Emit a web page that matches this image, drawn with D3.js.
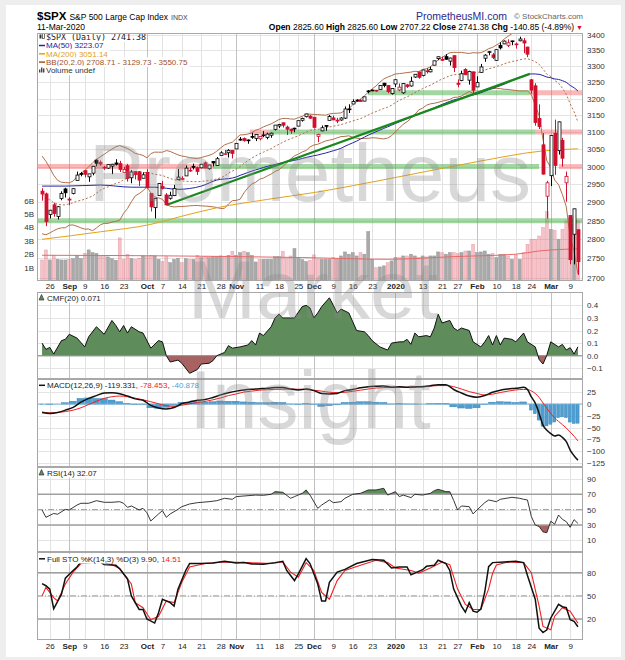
<!DOCTYPE html>
<html>
<head>
<meta charset="utf-8">
<title>$SPX daily</title>
<script src="https://cdn.jsdelivr.net/npm/d3@7/dist/d3.min.js"></script>
<style>
  body { margin: 0; background: #eeeeee; }
  svg { display: block; font-family: "Liberation Sans", Arial, sans-serif; }
</style>
</head>
<body>
<svg id="chart" width="625" height="660"></svg>
<script>
// trading days shown on the chart
const dates = [
  "2019-08-22","2019-08-23","2019-08-26","2019-08-27","2019-08-28","2019-08-29","2019-08-30",
  "2019-09-03","2019-09-04","2019-09-05","2019-09-06","2019-09-09","2019-09-10","2019-09-11","2019-09-12","2019-09-13",
  "2019-09-16","2019-09-17","2019-09-18","2019-09-19","2019-09-20","2019-09-23","2019-09-24","2019-09-25","2019-09-26","2019-09-27","2019-09-30",
  "2019-10-01","2019-10-02","2019-10-03","2019-10-04","2019-10-07","2019-10-08","2019-10-09","2019-10-10","2019-10-11",
  "2019-10-14","2019-10-15","2019-10-16","2019-10-17","2019-10-18","2019-10-21","2019-10-22","2019-10-23","2019-10-24","2019-10-25",
  "2019-10-28","2019-10-29","2019-10-30","2019-10-31",
  "2019-11-01","2019-11-04","2019-11-05","2019-11-06","2019-11-07","2019-11-08","2019-11-11","2019-11-12","2019-11-13","2019-11-14","2019-11-15",
  "2019-11-18","2019-11-19","2019-11-20","2019-11-21","2019-11-22","2019-11-25","2019-11-26","2019-11-27","2019-11-29",
  "2019-12-02","2019-12-03","2019-12-04","2019-12-05","2019-12-06","2019-12-09","2019-12-10","2019-12-11","2019-12-12","2019-12-13",
  "2019-12-16","2019-12-17","2019-12-18","2019-12-19","2019-12-20","2019-12-23","2019-12-24","2019-12-26","2019-12-27","2019-12-30","2019-12-31",
  "2020-01-02","2020-01-03","2020-01-06","2020-01-07","2020-01-08","2020-01-09","2020-01-10","2020-01-13","2020-01-14","2020-01-15","2020-01-16","2020-01-17",
  "2020-01-21","2020-01-22","2020-01-23","2020-01-24","2020-01-27","2020-01-28","2020-01-29","2020-01-30","2020-01-31",
  "2020-02-03","2020-02-04","2020-02-05","2020-02-06","2020-02-07","2020-02-10","2020-02-11","2020-02-12","2020-02-13","2020-02-14",
  "2020-02-18","2020-02-19","2020-02-20","2020-02-21","2020-02-24","2020-02-25","2020-02-26","2020-02-27","2020-02-28",
  "2020-03-02","2020-03-03","2020-03-04","2020-03-05","2020-03-06","2020-03-09","2020-03-10","2020-03-11"
];
const opens = [
  2930.94,2923.26,2866.70,2893.14,2861.28,2910.37,2937.09,
  2909.01,2924.67,2960.60,2980.33,2988.43,2971.01,2981.41,3018.46,3012.21,
  2996.41,2995.67,3001.50,3010.36,3008.42,2983.50,3002.43,2968.35,2985.73,2985.47,2967.07,
  2983.69,2924.78,2885.38,2918.56,2944.23,2920.40,2911.10,2918.55,2963.07,
  2965.81,2973.61,2989.68,3000.77,2996.84,2996.48,3010.73,2994.01,3014.78,3003.32,
  3032.12,3035.39,3039.74,3046.90,
  3050.72,3078.96,3080.80,3075.10,3087.02,3081.25,3080.33,3089.28,3084.18,3090.75,3107.92,
  3117.91,3127.45,3114.66,3108.49,3111.41,3117.44,3134.85,3145.49,3147.18,
  3143.85,3087.41,3103.50,3119.21,3134.62,3141.86,3135.36,3135.75,3141.23,3166.65,
  3183.63,3195.40,3195.21,3192.32,3223.33,3226.05,3225.45,3227.20,3247.23,3240.09,3215.18,
  3244.67,3226.36,3217.55,3241.86,3238.59,3266.03,3281.81,3271.13,3285.35,3282.27,3302.97,3323.66,
  3321.03,3330.02,3315.77,3333.10,3247.16,3255.35,3289.46,3256.45,3282.33,
  3235.66,3280.61,3324.91,3344.92,3335.54,3318.28,3365.87,3370.50,3365.90,3378.08,
  3369.04,3380.39,3380.45,3360.50,3257.61,3238.94,3139.90,3062.54,2916.90,
  2974.28,3096.46,3045.75,3075.70,2954.20,2863.89,2813.48,2825.60
];
const highs = [
  2939.08,2927.00,2879.27,2898.79,2890.03,2930.50,2940.43,
  2914.39,2938.84,2985.86,2985.03,2989.43,2979.39,3000.93,3020.74,3017.33,
  3002.19,3006.21,3007.83,3021.19,3016.37,2999.15,3007.98,2989.82,2987.28,2987.31,2983.85,
  2992.53,2924.78,2911.13,2953.74,2959.75,2925.47,2929.32,2948.46,2993.28,
  2972.84,3003.28,2997.54,3008.29,3000.00,3007.33,3014.57,3004.78,3016.07,3027.39,
  3044.08,3047.87,3050.10,3046.90,
  3066.95,3085.20,3083.95,3078.34,3097.77,3093.09,3088.33,3102.61,3098.06,3098.20,3120.46,
  3124.17,3127.64,3118.97,3110.11,3112.87,3133.83,3142.69,3154.26,3150.30,
  3144.31,3094.97,3119.38,3119.45,3150.60,3148.87,3142.12,3143.98,3176.28,3182.68,
  3197.71,3198.22,3198.48,3205.48,3225.65,3227.78,3226.43,3240.08,3247.93,3240.92,3231.72,
  3258.14,3246.15,3246.84,3244.91,3267.07,3275.58,3282.99,3288.13,3294.25,3298.66,3317.11,3329.88,
  3329.79,3337.77,3326.88,3333.18,3258.85,3285.78,3293.47,3285.91,3282.33,
  3268.44,3306.92,3337.58,3347.96,3341.42,3352.26,3375.63,3381.47,3385.09,3380.69,
  3375.01,3393.52,3389.15,3360.76,3259.81,3246.99,3182.51,3097.07,2959.72,
  3090.96,3136.72,3130.97,3083.04,2985.93,2863.89,2882.59,2825.60
];
const lows = [
  2904.51,2834.97,2856.00,2860.59,2853.05,2905.67,2913.32,
  2891.85,2921.86,2960.60,2972.51,2969.39,2957.01,2975.31,3000.92,3002.90,
  2990.67,2993.73,2978.57,3003.16,2984.68,2982.23,2957.73,2952.86,2963.71,2945.53,2967.07,
  2938.70,2874.93,2855.94,2918.56,2935.68,2892.66,2907.41,2917.12,2963.07,
  2962.94,2973.61,2985.20,2991.79,2976.31,2995.35,2995.04,2991.21,3000.42,3001.94,
  3032.12,3034.81,3025.96,3023.19,
  3050.72,3074.87,3072.15,3065.89,3080.23,3073.58,3075.82,3084.73,3078.80,3083.26,3104.60,
  3112.06,3113.47,3091.41,3094.55,3099.26,3117.44,3131.00,3143.41,3139.34,
  3110.78,3070.33,3102.53,3103.76,3134.62,3135.46,3126.09,3133.21,3138.47,3156.51,
  3183.63,3191.03,3191.14,3192.32,3216.03,3222.30,3220.51,3227.20,3234.37,3216.57,3212.03,
  3235.53,3222.34,3214.64,3232.43,3236.67,3263.67,3260.86,3268.43,3277.19,3280.69,3302.82,3318.86,
  3316.61,3320.04,3301.87,3281.53,3234.50,3253.22,3271.89,3242.80,3214.68,
  3235.66,3280.61,3313.75,3334.39,3322.12,3317.77,3352.72,3369.72,3360.52,3366.15,
  3355.61,3378.83,3341.02,3328.45,3214.65,3118.77,3108.99,2977.39,2855.84,
  2945.19,2976.63,3034.38,2999.83,2901.54,2734.43,2734.00,2707.22
];
const closes = [
  2922.95,2847.11,2878.38,2869.16,2887.94,2924.58,2926.46,
  2906.27,2937.78,2976.00,2978.71,2978.43,2979.39,3000.93,3009.57,3007.39,
  2997.96,3005.70,3006.73,3006.79,2992.07,2991.78,2966.60,2984.87,2977.62,2961.79,2976.74,
  2940.25,2887.61,2910.63,2952.01,2938.79,2893.06,2919.40,2938.13,2970.27,
  2966.15,2995.68,2989.69,2997.95,2986.20,3006.72,2995.99,3004.52,3010.29,3022.55,
  3039.42,3036.89,3046.77,3037.56,
  3066.91,3078.27,3074.62,3076.78,3085.18,3093.08,3087.01,3091.84,3094.04,3096.63,3120.46,
  3122.03,3120.18,3108.46,3103.54,3110.29,3133.64,3140.52,3153.63,3140.98,
  3113.87,3093.20,3112.76,3117.43,3145.91,3135.96,3132.52,3141.63,3168.57,3168.80,
  3191.45,3192.52,3191.14,3205.37,3221.22,3224.01,3223.38,3239.91,3240.02,3221.29,3230.78,
  3257.85,3234.85,3246.28,3237.18,3253.05,3274.70,3265.35,3288.13,3283.15,3289.29,3316.81,3329.62,
  3320.79,3321.75,3325.54,3295.47,3243.63,3276.24,3273.40,3283.66,3225.52,
  3248.92,3297.59,3334.69,3345.78,3327.71,3352.09,3357.75,3379.45,3373.94,3380.16,
  3370.29,3386.15,3373.23,3337.75,3225.89,3128.21,3116.39,2978.76,2954.22,
  3090.23,3003.37,3130.12,3023.94,2972.37,2746.56,2882.23,2741.38
];
// closes of the 19 sessions before the first day (Bollinger warm-up)
const priorCloses = [
  3025.86,3020.97,3013.18,2980.38,2953.56,2932.05,2844.74,2881.77,2883.98,2938.09,
  2918.65,2882.70,2926.32,2840.60,2847.60,2888.68,2923.65,2900.51,2924.43
];
// volume, billions of shares
const volumes = [
  1.57,2.32,1.57,1.92,1.62,1.57,1.57,
  1.62,1.67,1.92,1.67,2.07,2.32,2.12,2.07,1.87,
  1.82,1.80,1.67,1.55,3.22,1.62,2.00,1.67,1.62,1.70,1.87,
  1.82,1.92,1.87,1.62,1.45,1.82,1.37,1.62,1.70,
  1.37,1.67,1.62,1.62,1.92,1.75,1.82,1.75,1.82,1.82,
  1.87,1.82,1.92,2.22,
  1.92,2.12,2.22,2.12,1.92,1.42,1.62,1.62,1.62,1.62,1.82,
  1.82,2.22,1.67,1.87,2.42,1.75,1.60,1.45,1.55,
  1.95,1.62,1.62,1.62,1.62,1.75,1.62,1.87,2.17,2.00,
  2.12,1.87,2.12,2.00,3.69,1.62,1.00,1.05,1.13,1.37,1.50,
  1.75,1.75,1.87,1.87,2.00,1.87,1.75,1.87,1.80,1.87,1.87,2.17,
  2.12,2.00,2.12,2.12,2.05,2.12,2.24,2.24,2.74,
  2.12,2.17,2.24,2.00,2.05,1.75,2.00,2.00,1.87,1.62,
  1.95,1.62,2.12,2.74,3.12,3.12,3.36,3.99,5.18,
  3.86,3.79,3.12,3.86,4.49,4.74,4.20,4.50
];
// volume moving average
const volMaDay = [0, 30, 67, 89, 106, 122, 128, 138];
const volMaVal = [1.92, 1.88, 1.75, 1.62, 1.82, 2.00, 2.24, 2.40];

// moving averages read off the chart where the history is not on it
const ma50EarlyDay = [0, 6, 15, 23, 29, 35, 41, 45];
const ma50EarlyVal = [2945, 2945, 2948, 2942, 2942, 2936, 2945, 2962];
const ma200Day = [0, 15, 28, 36, 45, 58, 70, 90, 112, 129, 138];
const ma200Val = [2800, 2820, 2840, 2862, 2885, 2908, 2927, 2967, 3014, 3045, 3051.14];

// drawn annotations: trend line and support / resistance levels
const trendDay = [32, 125.6];
const trendPrice = [2892.66, 3276];
const levelPrice = [3218, 3218, 3100, 3100, 3100, 3000, 3000, 3000, 2850];
const levelFrom  = [83.9, 125.6, 53.5, 58.7, 127.1, -1.3, 44, 133.1, -1.3];
const levelTo    = [125.6, 139.3, 58.7, 127.1, 139.3, 44, 128, 139.3, 139.3];
const levelKind  = ["support", "resistance", "resistance", "support", "resistance", "resistance", "support", "resistance", "support"];

// CMF(20)
const cmfDay = [0,1,2,3,5,6,7,9,11,12,14,16,18,19,20,21,22,23,25,26,28,30,31,32,33,35,36,38,40,41,43,44,45,47,48,49,51,53,54,55,
  56,57,59,60,61,62,64,65,67,68,69,70,71,72,74,75,76,77,79,80,81,83,84,85,87,89,90,92,93,94,95,96,97,99,100,101,102,103,105,106,
  107,108,110,111,113,114,115,116,117,118,119,121,122,124,125,127,128,129,130,131,133,134,135,136,137,138];
const cmfVal = [0.10,0.05,0.066,0.013,0.12,0.13,0.17,0.14,0.07,0.15,0.23,0.17,0.28,0.24,0.19,0.24,0.18,0.23,0.19,0.18,
  0.06,0.12,0.11,0.0,-0.05,-0.035,-0.06,-0.14,-0.11,-0.066,-0.06,-0.04,0.0,0.026,0.08,0.06,0.07,0.085,0.12,0.085,
  0.18,0.16,0.23,0.30,0.33,0.30,0.30,0.30,0.39,0.40,0.38,0.30,0.34,0.39,0.46,0.40,0.34,0.37,0.34,0.27,
  0.20,0.19,0.16,0.12,0.07,0.045,0.10,0.11,0.11,0.13,0.09,0.18,0.15,0.16,0.15,0.22,0.33,0.26,0.28,0.22,
  0.20,0.22,0.20,0.11,0.07,0.11,0.16,0.085,0.16,0.085,0.14,0.13,0.11,0.18,0.11,0.07,-0.03,-0.066,0.005,0.11,
  0.07,0.09,0.045,0.064,0.013,0.071];

// MACD(12,26,9)
const macdDay = [0,2,4,6,8,10,12,14,16,18,20,22,24,26,28,30,32,34,36,38,40,42,44,46,48,50,52,54,56,58,60,62,64,66,68,70,
  72,74,76,78,80,82,84,86,88,90,92,94,96,98,100,102,104,106,108,110,112,114,116,118,120,122,124,
  125,126,127,128,129,130,131,132,133,134,135,136,137,138];
const macdVal = [-18,-20,-18,-13,-7,4,12,18,23.5,24,22,17,11,8,-3,-8.5,-10.5,-7.5,1,4.5,8,9.5,14,19.5,24,27.5,30,31.5,32.5,33.5,
  35,35,32,30,32,28.6,22.5,21.5,22.5,28.6,31,34.5,37,38,38.5,36,37,36,36.5,37,39,41,41,31,23.5,17,14.5,18,25,29.5,32,33.5,35.5,
  31,15,2,-20,-45,-56,-63,-68,-66,-71,-80,-98,-110,-119.331];
const signalVal = [-17,-18.6,-18,-16,-13,-8,-1,6,12,15.5,17,15.5,12.5,9,5,0.5,-3.5,-5,-2.5,0.5,3.2,5.5,9,13,18,21.5,25.5,27.5,29.5,30.5,
  31.2,31.5,31.8,31.5,30.8,29.5,27.5,25,24.3,25,27,29.5,32,34,35,35.7,35.7,35.7,36.3,37,38,39.3,39.3,37,32,26.5,22.5,19.3,21,24.5,27.5,30,31,
  31,27.8,22.6,14.1,2.3,-9.4,-20.1,-29.7,-37,-43.8,-51,-59.6,-68.4,-78.453];

// RSI(14)
const rsiDay = [0,1,3,4,6,7,9,10,12,14,16,18,20,21,22,23,25,26,27,28,30,31,32,33,35,36,38,40,43,45,47,49,50,52,55,57,59,60,62,64,
  65,67,68,69,71,72,74,75,77,78,80,82,84,86,88,89,91,92,93,95,96,98,100,101,102,104,105,106,107,108,
  110,111,112,114,115,117,118,121,123,124,125,126,127,128,129,130,131,132,133,134,135,136,137,138];
const rsiVal = [49.6,40,45,44,50.4,49.6,56,58.3,58.3,61.7,59.6,59.6,60.4,58.3,53,54.8,49.6,51.7,46,35.2,
  44.4,48.7,40,44.4,50.4,53.9,57.4,59.1,60.4,61.7,64.8,63.5,67,67.8,69,68.7,70,73.5,72.6,64.8,
  67,71.3,75.7,69,51.7,56,62.6,59.1,60.4,64.8,70,71.3,75.7,75.7,77.8,69,73.5,67,69,65.7,
  70,69,71.3,74.8,76.5,73.5,73.5,62,49.6,54.8,53.9,44.4,49.6,59.1,62.6,60.4,63.5,66.1,64.8,63.5,
  62.6,41,30,28,21,20,35,31,43,37.4,34.3,27,37,32.07];

// Full STO %K(14,3) %D(3)
const stoKDay = [0,1,2,3,5,6,8,9,10,13,15,16,19,20,22,23,25,26,27,29,30,31,33,34,35,37,38,41,44,47,50,52,54,57,60,62,63,65,66,68,
  69,71,72,73,74,76,78,81,85,88,90,92,94,95,96,98,99,101,102,104,105,106,108,109,110,111,112,113,114,115,
  116,119,122,124,125,127,128,129,130,131,133,134,135,136,137,138];
const stoKVal = [66,63.2,58.8,33.3,52.2,73,83,87.5,94,94,94,90.6,89.7,85.3,72,50,32.4,32.4,20,14.7,
  28,45.6,41.2,36.8,58.8,83,92,92,92.8,95,92.8,93.2,91.5,91,93.2,95,83,69.9,78.7,98.5,
  92,65.4,43.4,43.4,67.6,80.9,84.4,92,97.2,96.3,86.2,87.5,87.5,77.4,79.6,84,88.4,89.7,96.3,92,
  83,58.8,36.8,28.8,41.2,30.2,28.8,33,55,88,93.2,94,95,93.2,76.5,45.6,8.1,2.4,5.9,21.3,
  39,35.9,34.6,19.1,16.9,9.9];
const stoDDay = [0,1,3,4,6,8,10,15,18,20,23,24,26,28,30,32,34,36,38,42,47,53,59,62,64,66,68,70,72,74,
  76,78,82,86,89,91,95,97,100,103,105,107,109,111,113,115,116,117,120,124,126,128,129,131,132,134,136,138];
const stoDVal = [50,61,47.8,43.4,65.4,80.9,92,94,90.6,85.3,65.4,41.2,34.6,19.1,23.6,43.4,41.2,67.6,87.5,92,
  94,93.2,92,94,80.9,74.3,93.2,83,54.4,45.6,69.9,83,89.7,96.3,93.2,86.2,83,79.6,86.2,94,
  90.6,58.8,39,32.4,32.4,59,79,90,94,93.2,80,36.8,10.3,5.9,23.6,34.6,30.2,14.51];

const priceTicks = [2700,2750,2800,2850,2900,2950,3000,3050,3100,3150,3200,3250,3300,3350,3400];
const volumeTicks = [1,2,3,4,5,6];
const cmfTicks = [-0.1,0,0.1,0.2,0.3,0.4];
const macdTicks = [25,0,-25,-50,-75,-100,-125];
const rsiTicks = [10,30,50,70,90];
const stoTicks = [20,50,80];

console.log("days", dates.length, opens.length, highs.length, lows.length, closes.length, volumes.length);

// ---------------- layout ----------------
const plotLeft = 37, plotRight = 583;
const mainTop = 33, mainBottom = 281;
const cmfTop = 292, cmfBottom = 379;
const macdTop = 379, macdBottom = 467;
const rsiTop = 467, rsiBottom = 552;
const stoTop = 552, stoBottom = 640;
const upColor = "#000", downColor = "#d0102e";
const last = closes.length - 1;

const svg = d3.select("#chart");
const defs = svg.append("defs");
svg.append("rect").attr("x", 6).attr("y", 5).attr("width", 615).attr("height", 652).attr("fill", "#fff");

function clipRect(id, top, bottom) {
  defs.append("clipPath").attr("id", id).append("rect")
    .attr("x", plotLeft).attr("y", top).attr("width", plotRight - plotLeft).attr("height", bottom - top);
  return `url(#${id})`;
}

const x = d3.scaleLinear([-1.3, 139.3], [plotLeft, plotRight]);
const y = d3.scaleLog([2691.4, 3405.5], [mainBottom, mainTop]);
const vy = d3.scaleLinear([0, 6], [mainBottom, 200.6]);
const cmfY = d3.scaleLinear([-0.185, 0.506], [cmfBottom, cmfTop]);
const macdY = d3.scaleLinear([-134, 53.3], [macdBottom, macdTop]);
const rsiY = d3.scaleLinear([-5.2, 105.6], [rsiBottom, rsiTop]);
const stoY = d3.scaleLinear([-7.3, 107], [stoBottom, stoTop]);

// ---------------- date ticks ----------------
const days = dates.map(d3.utcParse("%Y-%m-%d"));
const monthIdx = [], weekIdx = [];
days.forEach((d, i) => {
  if (i === 0) return;
  const p = days[i - 1];
  if (d.getUTCMonth() !== p.getUTCMonth()) monthIdx.push(i);
  else if (d.getUTCDay() < p.getUTCDay()) weekIdx.push(i);
});
const tickIdx = monthIdx.concat(weekIdx.filter(i => monthIdx.every(m => Math.abs(m - i) > 2))).sort((a, b) => a - b);
function tickText(i) {
  if (!monthIdx.includes(i)) return d3.utcFormat("%-d")(days[i]);
  return days[i].getUTCMonth() === 0 ? d3.utcFormat("%Y")(days[i]) : d3.utcFormat("%b")(days[i]);
}

function grid(top, bottom, scale, values) {
  const g = svg.append("g").attr("shape-rendering", "crispEdges");
  g.selectAll(".h").data(values).join("line").attr("class", "h")
    .attr("x1", plotLeft).attr("x2", plotRight)
    .attr("y1", d => Math.round(scale(d)) + 0.5).attr("y2", d => Math.round(scale(d)) + 0.5)
    .attr("stroke", "#e4e4e4");
  g.selectAll(".v").data(tickIdx).join("line").attr("class", "v")
    .attr("x1", i => Math.round(x(i)) + 0.5).attr("x2", i => Math.round(x(i)) + 0.5)
    .attr("y1", top).attr("y2", bottom)
    .attr("stroke", i => monthIdx.includes(i) ? "#c2c2c2" : "#e2e2e2");
}

function rightAxis(scale, values, fmt) {
  const g = svg.append("g").attr("transform", `translate(${plotRight},0)`)
    .call(d3.axisRight(scale).tickValues(values).tickSize(0).tickPadding(4).tickFormat(fmt));
  g.select(".domain").remove();
  g.attr("font-size", 8).attr("font-family", "'Liberation Sans', Arial, sans-serif");
  g.selectAll("text").attr("fill", "#333");
}

function dateAxis(top) {
  const g = svg.append("g").attr("transform", `translate(0,${top})`)
    .call(d3.axisBottom(x).tickValues(tickIdx).tickSize(0).tickPadding(0).tickFormat(tickText));
  g.select(".domain").remove();
  g.attr("font-size", 8).attr("font-family", "'Liberation Sans', Arial, sans-serif");
  g.selectAll("text").attr("fill", "#222").attr("font-weight", i => monthIdx.includes(i) ? "bold" : "normal");
}

function frame(top, bottom) {
  svg.append("rect").attr("x", plotLeft + 0.5).attr("y", top + 0.5)
    .attr("width", plotRight - plotLeft - 1).attr("height", bottom - top - 1)
    .attr("fill", "none").attr("stroke", "#a8a8a8").attr("shape-rendering", "crispEdges");
}

function legendLine(xPos, yPos, parts) {
  const t = svg.append("text").attr("x", xPos).attr("y", yPos).attr("font-size", 8);
  parts.forEach(p => t.append("tspan").attr("fill", p[1]).text(p[0]));
  const w = t.node().getComputedTextLength();
  svg.insert("rect", () => t.node()).attr("x", xPos - 9).attr("y", yPos - 7.5).attr("width", w + 11).attr("height", 9.5).attr("fill", "#fff");
  return t;
}

// ---------------- header ----------------
const title = svg.append("text").attr("x", 37).attr("y", 20);
title.append("tspan").attr("font-size", 11.5).attr("font-weight", "bold").text("$SPX");
title.append("tspan").attr("font-size", 8.5).attr("dx", 3).text("S&P 500 Large Cap Index");
title.append("tspan").attr("font-size", 7).attr("dx", 3).attr("fill", "#444").text("INDX");
svg.append("text").attr("x", 37).attr("y", 30).attr("font-size", 8.5).text(d3.utcFormat("%d-%b-%Y")(days[last]));
svg.append("text").attr("x", 416).attr("y", 20).attr("font-size", 10.5).attr("fill", "#2a2a8c").text("PrometheusMI.com");
svg.append("text").attr("x", 583).attr("y", 19).attr("font-size", 8).attr("fill", "#666").attr("text-anchor", "end").text("© StockCharts.com");

const chg = closes[last] - closes[last - 1];
const ohlc = svg.append("text").attr("x", 583).attr("y", 30).attr("font-size", 8.5).attr("text-anchor", "end");
[["Open", opens[last]], ["High", highs[last]], ["Low", lows[last]], ["Close", closes[last]]].forEach(([k, v]) => {
  ohlc.append("tspan").attr("font-weight", "bold").text(k + " ");
  ohlc.append("tspan").text(v.toFixed(2) + "  ");
});
ohlc.append("tspan").attr("font-weight", "bold").text("Chg ");
ohlc.append("tspan").text(`${chg.toFixed(2)} (${(chg / closes[last - 1] * 100).toFixed(2)}%)`);
ohlc.append("tspan").attr("fill", downColor).attr("font-size", 7).text(" ▼");

// ---------------- price panel ----------------
grid(mainTop, mainBottom, y, priceTicks);
const main = svg.append("g").attr("clip-path", clipRect("clipMain", mainTop, mainBottom));

const prevClose = i => i === 0 ? priorCloses[priorCloses.length - 1] : closes[i - 1];
const dayColor = i => closes[i] >= prevClose(i) ? upColor : downColor;

// volume
main.append("g").selectAll("rect").data(volumes).join("rect")
  .attr("x", (v, i) => x(i) - 1.5).attr("width", 3)
  .attr("y", v => vy(v)).attr("height", v => vy(0) - vy(v))
  .attr("fill", (v, i) => dayColor(i) === upColor ? "#a9a9a9" : "rgba(228,110,125,0.42)")
  .attr("stroke", (v, i) => dayColor(i) === upColor ? "#979797" : "rgba(215,90,105,0.45)")
  .attr("stroke-width", 0.5);
main.append("path")
  .datum(volMaDay.map((d, k) => [d, volMaVal[k]]))
  .attr("fill", "none").attr("stroke", "#e86868").attr("stroke-width", 1)
  .attr("d", d3.line().x(p => x(p[0])).y(p => vy(p[1])).curve(d3.curveMonotoneX));

// support / resistance levels
main.append("g").selectAll("line").data(levelPrice).join("line")
  .attr("x1", (p, k) => x(levelFrom[k])).attr("x2", (p, k) => x(levelTo[k]))
  .attr("y1", p => y(p)).attr("y2", p => y(p))
  .attr("stroke", (p, k) => levelKind[k] === "support" ? "rgba(70,175,70,0.5)" : "rgba(245,95,95,0.45)")
  .attr("stroke-width", 5);

// Bollinger bands(20, 2)
const allCloses = priorCloses.concat(closes);
const bb = closes.map((c, i) => {
  const win = allCloses.slice(i, i + 20);
  const m = d3.mean(win);
  const sd = Math.sqrt(d3.mean(win, v => (v - m) * (v - m)));
  return { i, mid: m, up: m + 2 * sd, lo: m - 2 * sd };
});
const bbColor = "#b0704c";
["up", "lo"].forEach(k => main.append("path").datum(bb)
  .attr("fill", "none").attr("stroke", bbColor).attr("stroke-width", 1)
  .attr("d", d3.line().x(d => x(d.i)).y(d => y(d[k]))));
main.append("path").datum(bb)
  .attr("fill", "none").attr("stroke", bbColor).attr("stroke-width", 1).attr("stroke-dasharray", "2,2")
  .attr("d", d3.line().x(d => x(d.i)).y(d => y(d.mid)));

// moving averages
const ma50 = ma50EarlyDay.map((d, k) => [d, ma50EarlyVal[k]])
  .concat(d3.range(49, closes.length).map(i => [i, d3.mean(closes.slice(i - 49, i + 1))]));
main.append("path").datum(ma200Day.map((d, k) => [d, ma200Val[k]]))
  .attr("fill", "none").attr("stroke", "#e2a21c").attr("stroke-width", 1)
  .attr("d", d3.line().x(p => x(p[0])).y(p => y(p[1])).curve(d3.curveMonotoneX));
main.append("path").datum(ma50)
  .attr("fill", "none").attr("stroke", "#2424a4").attr("stroke-width", 1)
  .attr("d", d3.line().x(p => x(p[0])).y(p => y(p[1])).curve(d3.curveMonotoneX));

// trend line
main.append("path").datum(trendDay.map((d, k) => [d, trendPrice[k]]))
  .attr("fill", "none").attr("stroke", "#18881c").attr("stroke-width", 2.2)
  .attr("d", d3.line().x(p => x(p[0])).y(p => y(p[1])));

// candles
const candles = main.append("g").selectAll("g").data(closes).join("g");
candles.append("line")
  .attr("x1", (c, i) => Math.round(x(i)) + 0.5).attr("x2", (c, i) => Math.round(x(i)) + 0.5)
  .attr("y1", (c, i) => y(highs[i])).attr("y2", (c, i) => y(lows[i]))
  .attr("stroke", (c, i) => dayColor(i)).attr("stroke-width", 1);
candles.append("rect")
  .attr("x", (c, i) => Math.round(x(i)) - 1).attr("width", 3)
  .attr("y", (c, i) => y(Math.max(opens[i], c)))
  .attr("height", (c, i) => Math.max(0.8, Math.abs(y(opens[i]) - y(c))))
  .attr("fill", (c, i) => c >= opens[i] ? "#fff" : dayColor(i))
  .attr("stroke", (c, i) => dayColor(i)).attr("stroke-width", 0.8);

rightAxis(y, priceTicks, d3.format("d"));
const vAxis = svg.append("g").attr("transform", `translate(${plotLeft},0)`)
  .call(d3.axisLeft(vy).tickValues(volumeTicks).tickSize(0).tickPadding(3).tickFormat(d => d + "B"));
vAxis.select(".domain").remove();
vAxis.attr("font-size", 8).attr("font-family", "'Liberation Sans', Arial, sans-serif");
vAxis.selectAll("text").attr("fill", "#333");
dateAxis(283);

// price legend
const ma50Last = ma50[ma50.length - 1][1];
const spx = legendLine(46, 40, [[`$SPX (Daily) ${closes[last].toFixed(2)}`, "#222"]]);
spx.attr("font-family", "'DejaVu Sans Mono', monospace").attr("font-size", 8.3);
svg.append("rect").attr("x", 39.5).attr("y", 34.5).attr("width", 2).attr("height", 4).attr("fill", "#333");
svg.append("rect").attr("x", 42.5).attr("y", 33.5).attr("width", 2).attr("height", 5).attr("fill", "none").attr("stroke", "#333").attr("stroke-width", 0.7);
const legendRows = [
  [`MA(50) ${ma50Last.toFixed(2)}`, "#2424a4"],
  [`MA(200) ${ma200Val[ma200Val.length - 1].toFixed(2)}`, "#e2a21c"],
  [`BB(20,2.0) ${bb[last].lo.toFixed(2)} - ${bb[last].mid.toFixed(2)} - ${bb[last].up.toFixed(2)}`, "#a0522d"]
];
legendRows.forEach((r, k) => {
  legendLine(46, 48.3 + k * 8.3, [[r[0], r[1]]]);
  svg.append("line").attr("x1", 39).attr("x2", 45).attr("y1", 45.5 + k * 8.3).attr("y2", 45.5 + k * 8.3)
    .attr("stroke", r[1]).attr("stroke-width", 1.5);
});
legendLine(46, 73.2, [["Volume undef", "#333"]]);
[[39, 3], [41, 5], [43, 4]].forEach(b => svg.append("rect").attr("x", b[0]).attr("y", 72.5 - b[1]).attr("width", 1.4).attr("height", b[1]).attr("fill", "#444"));

// ---------------- CMF ----------------
grid(cmfTop, cmfBottom, cmfY, cmfTicks);
const cmfPts = cmfDay.map((d, k) => [d, cmfVal[k]]);
const cmfG = svg.append("g").attr("clip-path", clipRect("clipCmf", cmfTop, cmfBottom));
defs.append("clipPath").attr("id", "cmfPos").append("rect").attr("x", plotLeft).attr("y", cmfTop).attr("width", plotRight - plotLeft).attr("height", cmfY(0) - cmfTop);
defs.append("clipPath").attr("id", "cmfNeg").append("rect").attr("x", plotLeft).attr("y", cmfY(0)).attr("width", plotRight - plotLeft).attr("height", cmfBottom - cmfY(0));
const cmfArea = d3.area().x(p => x(p[0])).y0(cmfY(0)).y1(p => cmfY(p[1]));
cmfG.append("path").datum(cmfPts).attr("clip-path", "url(#cmfPos)").attr("fill", "#5f8c5b").attr("d", cmfArea);
cmfG.append("path").datum(cmfPts).attr("clip-path", "url(#cmfNeg)").attr("fill", "#a86262").attr("d", cmfArea);
cmfG.append("line").attr("x1", plotLeft).attr("x2", plotRight).attr("y1", cmfY(0)).attr("y2", cmfY(0)).attr("stroke", "#888");
cmfG.append("path").datum(cmfPts).attr("fill", "none").attr("stroke", "#111").attr("stroke-width", 1)
  .attr("d", d3.line().x(p => x(p[0])).y(p => cmfY(p[1])));
rightAxis(cmfY, cmfTicks, d3.format(".1f"));
legendLine(47, 300.5, [[`CMF(20) ${cmfVal[cmfVal.length - 1].toFixed(3)}`, "#222"]]);
svg.append("path").attr("d", "M39,300 L41.5,294.5 L44,300 Z").attr("fill", "#5f8c5b").attr("stroke", "#222").attr("stroke-width", 0.6);

// ---------------- MACD ----------------
grid(macdTop, macdBottom, macdY, macdTicks);
const macdG = svg.append("g").attr("clip-path", clipRect("clipMacd", macdTop, macdBottom));
const macdPts = macdDay.map((d, k) => ({ d, m: macdVal[k], s: signalVal[k], h: macdVal[k] - signalVal[k] }));
macdG.append("g").selectAll("rect").data(macdPts).join("rect")
  .attr("x", (p, k) => x(p.d) - (k > 0 ? (x(p.d) - x(macdPts[k - 1].d)) / 2 : 1.5))
  .attr("width", (p, k) => Math.max(1.5, (k > 0 ? x(p.d) - x(macdPts[k - 1].d) : 3) - 0.8))
  .attr("y", p => Math.min(macdY(0), macdY(p.h)))
  .attr("height", p => Math.abs(macdY(p.h) - macdY(0)))
  .attr("fill", "#4f9ed2").attr("stroke", "#2f7fb5").attr("stroke-width", 0.4);
macdG.append("line").attr("x1", plotLeft).attr("x2", plotRight).attr("y1", macdY(0)).attr("y2", macdY(0)).attr("stroke", "#7fb6dc");
macdG.append("path").datum(macdPts).attr("fill", "none").attr("stroke", "#f02020").attr("stroke-width", 1)
  .attr("d", d3.line().x(p => x(p.d)).y(p => macdY(p.s)).curve(d3.curveMonotoneX));
macdG.append("path").datum(macdPts).attr("fill", "none").attr("stroke", "#111").attr("stroke-width", 1.5)
  .attr("d", d3.line().x(p => x(p.d)).y(p => macdY(p.m)).curve(d3.curveMonotoneX));
rightAxis(macdY, macdTicks, d3.format("d"));
const lastMacd = macdPts[macdPts.length - 1];
legendLine(47, 388, [[`MACD(12,26,9) ${lastMacd.m.toFixed(3)}, `, "#222"], [lastMacd.s.toFixed(3), "#f02020"], [", ", "#222"], [lastMacd.h.toFixed(3), "#4f9ed2"]]);
svg.append("line").attr("x1", 39).attr("x2", 45).attr("y1", 385.3).attr("y2", 385.3).attr("stroke", "#111").attr("stroke-width", 1.5);

// ---------------- RSI ----------------
grid(rsiTop, rsiBottom, rsiY, rsiTicks);
const rsiG = svg.append("g").attr("clip-path", clipRect("clipRsi", rsiTop, rsiBottom));
const rsiPts = rsiDay.map((d, k) => [d, rsiVal[k]]);
defs.append("clipPath").attr("id", "rsiHigh").append("rect").attr("x", plotLeft).attr("y", rsiTop).attr("width", plotRight - plotLeft).attr("height", rsiY(70) - rsiTop);
defs.append("clipPath").attr("id", "rsiLow").append("rect").attr("x", plotLeft).attr("y", rsiY(30)).attr("width", plotRight - plotLeft).attr("height", rsiBottom - rsiY(30));
rsiG.append("path").datum(rsiPts).attr("clip-path", "url(#rsiHigh)").attr("fill", "#5f8c5b")
  .attr("d", d3.area().x(p => x(p[0])).y0(rsiY(70)).y1(p => rsiY(p[1])));
rsiG.append("path").datum(rsiPts).attr("clip-path", "url(#rsiLow)").attr("fill", "#a86262")
  .attr("d", d3.area().x(p => x(p[0])).y0(rsiY(30)).y1(p => rsiY(p[1])));
[70, 30].forEach(v => rsiG.append("line").attr("x1", plotLeft).attr("x2", plotRight).attr("y1", rsiY(v)).attr("y2", rsiY(v)).attr("stroke", "#a0a0a0").attr("stroke-width", 1.6));
rsiG.append("line").attr("x1", plotLeft).attr("x2", plotRight).attr("y1", rsiY(50)).attr("y2", rsiY(50)).attr("stroke", "#999").attr("stroke-dasharray", "6,2,1,2");
rsiG.append("path").datum(rsiPts).attr("fill", "none").attr("stroke", "#222").attr("stroke-width", 0.9)
  .attr("d", d3.line().x(p => x(p[0])).y(p => rsiY(p[1])));
rightAxis(rsiY, rsiTicks, d3.format("d"));
legendLine(47, 475.5, [[`RSI(14) ${rsiVal[rsiVal.length - 1].toFixed(2)}`, "#222"]]);
svg.append("path").attr("d", "M39,475 L41.5,469.5 L44,475 Z").attr("fill", "#5f8c5b").attr("stroke", "#222").attr("stroke-width", 0.6);

// ---------------- Full STO ----------------
grid(stoTop, stoBottom, stoY, stoTicks);
const stoG = svg.append("g").attr("clip-path", clipRect("clipSto", stoTop, stoBottom));
[80, 20].forEach(v => stoG.append("line").attr("x1", plotLeft).attr("x2", plotRight).attr("y1", stoY(v)).attr("y2", stoY(v)).attr("stroke", "#a0a0a0").attr("stroke-width", 1.6));
stoG.append("line").attr("x1", plotLeft).attr("x2", plotRight).attr("y1", stoY(50)).attr("y2", stoY(50)).attr("stroke", "#999").attr("stroke-dasharray", "6,2,1,2");
stoG.append("path").datum(stoDDay.map((d, k) => [d, stoDVal[k]])).attr("fill", "none").attr("stroke", "#f02020").attr("stroke-width", 1.1)
  .attr("d", d3.line().x(p => x(p[0])).y(p => stoY(p[1])));
stoG.append("path").datum(stoKDay.map((d, k) => [d, stoKVal[k]])).attr("fill", "none").attr("stroke", "#111").attr("stroke-width", 1.5)
  .attr("d", d3.line().x(p => x(p[0])).y(p => stoY(p[1])));
rightAxis(stoY, stoTicks, d3.format("d"));
dateAxis(643);
legendLine(47, 561.5, [[`Full STO %K(14,3) %D(3) ${stoKVal[stoKVal.length - 1].toFixed(2)}, `, "#222"], [stoDVal[stoDVal.length - 1].toFixed(2), "#f02020"]]);
svg.append("line").attr("x1", 39).attr("x2", 45).attr("y1", 558.8).attr("y2", 558.8).attr("stroke", "#111").attr("stroke-width", 1.5);

// ---------------- frames & watermark ----------------
frame(mainTop, mainBottom);
frame(cmfTop, cmfBottom);
frame(macdTop, macdBottom);
frame(rsiTop, rsiBottom);
frame(stoTop, stoBottom);

const mark = svg.append("g").attr("fill", "#8a8a8a").attr("opacity", 0.33).attr("font-size", 82)
  .attr("text-anchor", "middle").style("pointer-events", "none");
mark.append("text").attr("x", 310).attr("y", 201).text("Prometheus");
mark.append("text").attr("x", 313).attr("y", 318).text("Market");
mark.append("text").attr("x", 310).attr("y", 428).text("Insight");
</script>
</body>
</html>
